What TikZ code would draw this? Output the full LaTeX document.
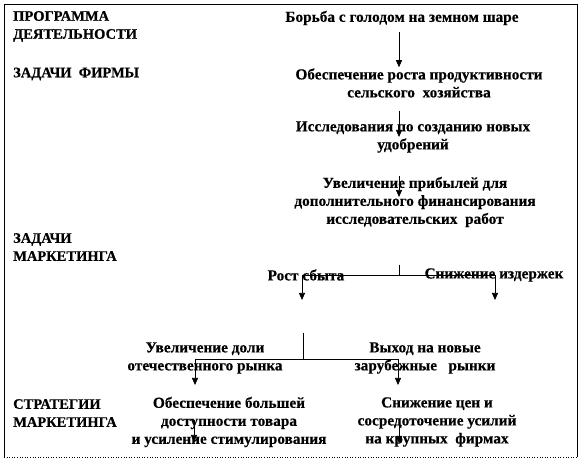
\documentclass[tikz,border=0pt]{standalone}
\usepackage{fontspec}
\setmainfont{Liberation Serif}[BoldFeatures={FakeBold=0.4}]
\usepackage{tikz}
\usetikzlibrary{arrows.meta,positioning,calc}

\begin{document}
\begin{tikzpicture}[
    x=1pt, y=-1pt,
    >={Triangle[length=7pt,width=6pt]},
    lvl/.style={font=\fontsize{14.5}{18}\selectfont\bfseries, align=left, anchor=west, inner sep=0pt},
    goal/.style={font=\fontsize{15.3}{18}\selectfont\bfseries, align=center, inner sep=1pt},
    conn/.style={line width=0.7pt}
]
\useasboundingbox (0,0) rectangle (582,462);
% frame
\draw[line width=0.6pt] (4,457) -- (4,4) -- (577,4) -- (577,457);
\draw[line width=0.6pt, dotted] (4,457) -- (577,457);

% left column
\node[lvl] (prog) at (13,26.5) {ПРОГРАММА\\ДЕЯТЕЛЬНОСТИ};
\node[lvl] (zfirm) at (13,74) {ЗАДАЧИ\ \ ФИРМЫ};
\node[lvl] (zmark) at (13,247) {ЗАДАЧИ\\МАРКЕТИНГА};
\node[lvl] (strat) at (13,413) {СТРАТЕГИИ\\МАРКЕТИНГА};

% goals
\node[goal] (borba) at (402,18) {Борьба с голодом на земном шаре};
\node[goal] (obesp) at (419,83) {Обеспечение роста продуктивности\\сельского\ \ хозяйства};
\node[goal] (issl) at (413,137) {Исследования по созданию новых\\удобрений};
\node[goal] (pribyl) at (415,202) {Увеличение прибылей для\\дополнительного финансирования\\исследовательских\ \ работ};
\node[goal] (rost) at (306,275) {Рост сбыта};
\node[goal] (snizh) at (494,275) {Снижение издержек};
\node[goal] (dolya) at (205,358) {Увеличение доли\\отечественного рынка};
\node[goal] (vyhod) at (425,358) {Выход на новые\\зарубежные\ \ \ рынки};
\node[goal] (dostup) at (229,422) {Обеспечение большей\\доступности товара\\и усиление стимулирования};
\node[goal] (ceny) at (437,422) {Снижение цен и\\сосредоточение усилий\\на крупных\ \ фирмах};

% connectors
\coordinate (trunk) at (399,0);
\coordinate (tick1) at (399,265);
\coordinate (rostend) at (302,300);
\coordinate (snizhend) at (495,300);
\coordinate (tick2) at (303,333);
\coordinate (fork2) at (303,359);
\coordinate (dolyaend) at (195,385);
\coordinate (vyhodend) at (398,385);
\coordinate (dstart) at (194,420);
\coordinate (dend) at (194,442);
\coordinate (cstart) at (399,420);
\coordinate (cend) at (399,443);

\draw[conn, ->, shorten <=6pt] (borba.south -| trunk) -- (obesp.north -| trunk);
\draw[conn, ->, shorten <=12pt] (obesp.south -| trunk) -- (issl.center -| trunk);
\draw[conn, ->, shorten >=5pt] (pribyl.north -| trunk) -- (pribyl.center -| trunk);
\draw[conn] (tick1) -- (trunk |- rost);
\draw[conn, ->] (trunk |- rost) -| (rostend);
\draw[conn, ->] (trunk |- rost) -| (snizhend);
\draw[conn] (tick2) -- (fork2);
\draw[conn, ->] (fork2) -| (dolyaend);
\draw[conn, ->] (fork2) -| (vyhodend);
\draw[conn, ->] (dstart) -- (dend);
\draw[conn, ->] (cstart) -- (cend);
\end{tikzpicture}
\end{document}
